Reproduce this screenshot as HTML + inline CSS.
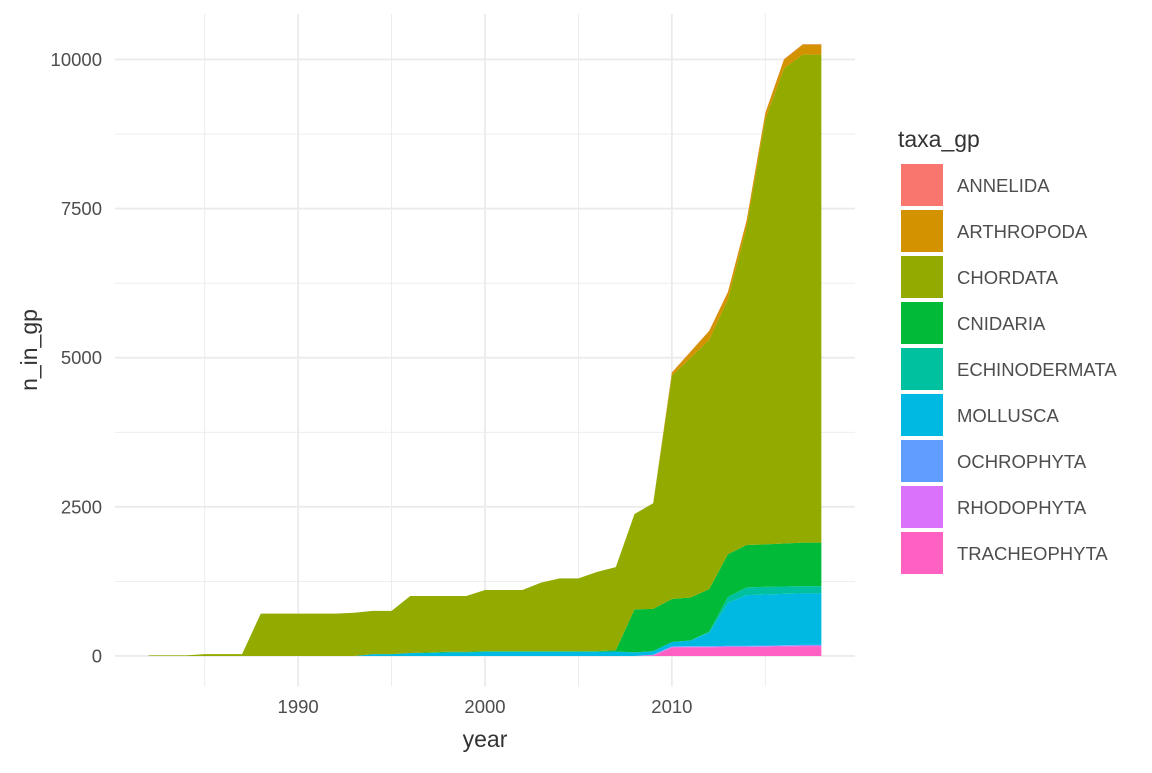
<!DOCTYPE html>
<html><head><meta charset="utf-8"><style>
body{margin:0;background:#fff;font-family:"Liberation Sans",sans-serif}
</style></head><body>
<svg id="chart" width="1152" height="768" xmlns="http://www.w3.org/2000/svg" font-family="Liberation Sans, sans-serif">
<g id="grid"></g>
<g id="areas"></g>
<g id="axes"></g>
<text x="485" y="747" font-size="23" fill="#333" text-anchor="middle">year</text>
<text x="37" y="350" font-size="23" fill="#333" text-anchor="middle" transform="rotate(-90 37 350)">n_in_gp</text>
<g id="legend">
<text x="898" y="147" font-size="23" fill="#333">taxa_gp</text>
</g>
</svg>
<script>
const years=[1982,1983,1984,1985,1986,1987,1988,1989,1990,1991,1992,1993,1994,1995,1996,1997,1998,1999,2000,2001,2002,2003,2004,2005,2006,2007,2008,2009,2010,2011,2012,2013,2014,2015,2016,2017,2018];
const groups=["ANNELIDA","ARTHROPODA","CHORDATA","CNIDARIA","ECHINODERMATA","MOLLUSCA","OCHROPHYTA","RHODOPHYTA","TRACHEOPHYTA"];
const colors=["#F8766D","#D39200","#93AA00","#00BA38","#00C19F","#00B9E3","#619CFF","#DB72FB","#FF61C3"];
const annelida=[0,0,0,0,0,0,0,0,0,0,0,0,0,0,0,0,0,0,0,0,0,0,0,0,0,0,0,0,5,5,5,5,5,5,5,5,5];
const arthropoda=[0,0,0,0,0,0,0,0,0,0,0,0,0,0,0,0,0,0,0,0,0,0,0,0,0,0,0,0,50,100,150,120,100,100,150,170,170];
const chordata=[10,10,10,30,30,30,710,710,710,710,710,725,725,725,955,945,935,935,1025,1025,1025,1150,1220,1220,1330,1395,1600,1770,3745,4020,4180,4275,5340,7130,7965,8180,8180];
const cnidaria=[0,0,0,0,0,0,0,0,0,0,0,0,0,0,0,10,10,10,10,10,10,10,10,10,10,20,720,710,720,720,710,715,710,710,720,730,730];
const echinodermata=[0,0,0,0,0,0,0,0,0,0,0,0,0,0,0,0,0,0,0,0,0,0,0,0,0,0,0,0,0,0,20,100,130,130,125,120,120];
const mollusca=[0,0,0,0,0,0,0,0,0,0,0,0,30,30,50,50,60,60,70,70,70,70,70,70,70,75,60,60,75,95,225,720,850,855,860,865,865];
const ochrophyta=[0,0,0,0,0,0,0,0,0,0,0,0,0,0,0,0,0,0,0,0,0,0,0,0,0,0,0,5,10,10,10,10,10,10,10,10,10];
const rhodophyta=[0,0,0,0,0,0,0,0,0,0,0,0,0,0,0,0,0,0,0,0,0,0,0,0,0,0,0,5,10,10,10,10,10,10,10,10,10];
const tracheophyta=[0,0,0,0,0,0,0,0,0,0,0,0,0,0,0,0,0,0,0,0,0,0,0,0,0,0,0,10,140,145,145,150,150,155,160,165,165];
const yTicks=[0,2500,5000,7500,10000];
const yTickLabels=["0","2500","5000","7500","10000"];
const xTicks=[1990,2000,2010];
const xTickLabels=["1990","2000","2010"];

const series=[annelida,arthropoda,chordata,cnidaria,echinodermata,mollusca,ochrophyta,rhodophyta,tracheophyta];
const NS="http://www.w3.org/2000/svg";
const PL=115,PR=855,PT=14,PB=686.5,XMIN=1980.2,XMAX=2019.8,YMIN=-512,YMAX=10762;
const xs=v=>PL+(v-XMIN)/(XMAX-XMIN)*(PR-PL);
const ys=v=>PB-(v-YMIN)/(YMAX-YMIN)*(PB-PT);
function mk(tag,attrs,parent){const e=document.createElementNS(NS,tag);for(const k in attrs)e.setAttribute(k,attrs[k]);parent.appendChild(e);return e;}
const grid=document.getElementById('grid'),areas=document.getElementById('areas'),axes=document.getElementById('axes'),legend=document.getElementById('legend');
for(let i=0;i<yTicks.length-1;i++){const v=(yTicks[i]+yTicks[i+1])/2;const l=mk('line',{x1:PL,x2:PR,y1:ys(v),y2:ys(v),stroke:'#EBEBEB','stroke-width':0.9},grid);

}
for(const v of [1985,1995,2005,2015]){const l=mk('line',{x1:xs(v),x2:xs(v),y1:PT,y2:PB,stroke:'#EBEBEB','stroke-width':0.9},grid);

}
yTicks.forEach((v,i)=>{const l=mk('line',{x1:PL,x2:PR,y1:ys(v),y2:ys(v),stroke:'#EBEBEB','stroke-width':1.8},grid);


const t=mk('text',{x:102,y:ys(v)+6.5,'font-size':18.5,fill:'#4D4D4D','text-anchor':'end'},axes);t.textContent=yTickLabels[i];

});
xTicks.forEach((v,i)=>{const l=mk('line',{x1:xs(v),x2:xs(v),y1:PT,y2:PB,stroke:'#EBEBEB','stroke-width':1.8},grid);


const t=mk('text',{x:xs(v),y:713,'font-size':18.5,fill:'#4D4D4D','text-anchor':'middle'},axes);t.textContent=xTickLabels[i];

});
const base=years.map(()=>0);
for(let s=series.length-1;s>=0;s--){
  const lo=base.slice();const hi=base.map((b,i)=>b+series[s][i]);
  let d='M'+years.map((y,i)=>xs(y)+','+ys(hi[i])).join(' L');
  for(let i=years.length-1;i>=0;i--)d+=' L'+xs(years[i])+','+ys(lo[i]);
  d+='Z';
  const p=mk('path',{d:d,fill:colors[s]},areas);
  
  
  for(let i=0;i<base.length;i++)base[i]=hi[i];
}
groups.forEach((g,i)=>{const y=164+i*46;
const r=mk('rect',{x:901,y:y,width:42,height:42,fill:colors[i]},legend);


const t=mk('text',{x:957,y:y+28,'font-size':18.5,fill:'#4D4D4D'},legend);t.textContent=g;

});
</script>
</body></html>
